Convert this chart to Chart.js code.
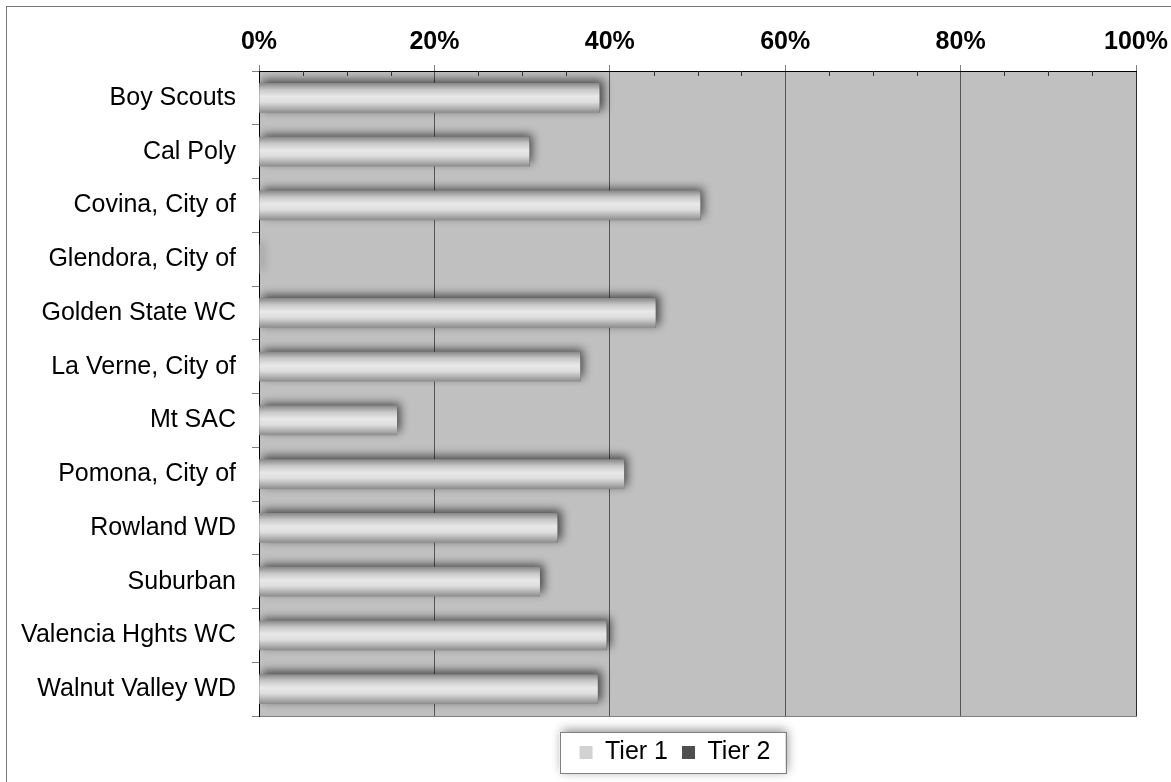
<!DOCTYPE html>
<html>
<head>
<meta charset="utf-8">
<script src="https://cdn.jsdelivr.net/npm/chart.js@4.4.1/dist/chart.umd.min.js"></script>
<style>
    html, body { margin: 0; padding: 0; background: #fff; }
    #wrap { position: relative; width: 1171px; height: 782px; }
    #frame { position: absolute; left: 6px; top: 6px; right: 0; bottom: 0; border-left: 1px solid #777; border-top: 1px solid #777; pointer-events: none; }
</style>
</head>
<body>
<div id="wrap">
    <canvas id="chart" width="1171" height="782"></canvas>
    <div id="frame"></div>
</div>
<script>
const categories = [
    "Boy Scouts", "Cal Poly", "Covina, City of", "Glendora, City of",
    "Golden State WC", "La Verne, City of", "Mt SAC", "Pomona, City of",
    "Rowland WD", "Suburban", "Valencia Hghts WC", "Walnut Valley WD",
];
const tier1 = [38.8, 30.8, 50.3, 0, 45.2, 36.6, 15.7, 41.6, 34.0, 32.0, 39.6, 38.6];
const tier2 = [0, 0, 0, 0, 0, 0, 0, 0, 0, 0, 0, 0];
const xTicks = [0, 20, 40, 60, 80, 100];
const minorTicks = [5, 10, 15, 25, 30, 35, 45, 50, 55, 65, 70, 75, 85, 90, 95];

const FONT = "'Liberation Sans', Arial, sans-serif";
const BAR_H = 29;
const LEGEND_CENTER = 675;

function barFill(context) {
    if (context.type !== "data") return "#d9d9d9";
    const chart = context.chart;
    const y = chart.scales.y ? chart.scales.y.getPixelForValue(context.dataIndex) : NaN;
    if (!isFinite(y)) return "#d9d9d9";
    const g = chart.ctx.createLinearGradient(0, y - BAR_H / 2, 0, y + BAR_H / 2);
    g.addColorStop(0, "#8a8a8a");
    g.addColorStop(0.22, "#c8c8c8");
    g.addColorStop(0.45, "#e8e8e8");
    g.addColorStop(0.65, "#dedede");
    g.addColorStop(0.85, "#b2b2b2");
    g.addColorStop(1, "#8e8e8e");
    return g;
}

const decor = {
    id: "decor",
    afterLayout(chart) {
        // excel centres the legend a bit right of the canvas middle
        const lg = chart.legend;
        const shift = LEGEND_CENTER - (lg.left + lg.right) / 2;
        lg.left += shift;
        lg.right += shift;
    },
    beforeDraw(chart) {
        const ctx = chart.ctx;
        const a = chart.chartArea;
        ctx.save();
        ctx.fillStyle = "#c0c0c0";
        ctx.fillRect(a.left, a.top, a.right - a.left, a.bottom - a.top);

        // legend frame
        const hb = chart.legend.legendHitBoxes;
        if (hb.length) {
            const first = hb[0], last = hb[hb.length - 1];
            const left = first.left - 20;
            const right = last.left + last.width + 15;
            const cy = first.top + first.height / 2;
            ctx.shadowColor = "rgba(0,0,0,0.45)";
            ctx.shadowBlur = 10;
            ctx.shadowOffsetX = 2;
            ctx.shadowOffsetY = -2;
            ctx.fillStyle = "#fff";
            ctx.fillRect(left, cy - 20.5, right - left, 41);
            ctx.shadowColor = "transparent";
            ctx.strokeStyle = "#808080";
            ctx.lineWidth = 1;
            ctx.strokeRect(Math.round(left) + 0.5, Math.round(cy - 20.5) + 0.5, Math.round(right - left), 41);
        }
        ctx.restore();
    },
    beforeDatasetDraw(chart) {
        const ctx = chart.ctx;
        ctx.save();
        ctx.shadowColor = "rgba(0,0,0,0.65)";
        ctx.shadowBlur = 9;
        ctx.shadowOffsetX = 3;
        ctx.shadowOffsetY = -3;
    },
    afterDatasetDraw(chart) {
        chart.ctx.restore();
    },
    afterDraw(chart) {
        const ctx = chart.ctx;
        const x = chart.scales.x;
        const top = chart.chartArea.top;
        ctx.save();
        ctx.strokeStyle = "#333";
        ctx.lineWidth = 1;
        ctx.beginPath();
        minorTicks.forEach((v) => {
            const px = Math.round(x.getPixelForValue(v)) + 0.5;
            ctx.moveTo(px, top);
            ctx.lineTo(px, top + 5);
        });
        ctx.stroke();
        ctx.restore();
    },
};

new Chart(document.getElementById("chart"), {
    type: "bar",
    data: {
        labels: categories,
        datasets: [
            {
                label: "Tier 1",
                data: tier1,
                backgroundColor: barFill,
                borderWidth: 0,
                barThickness: BAR_H,
            },
            {
                label: "Tier 2",
                data: tier2,
                backgroundColor: "#555",
                borderWidth: 0,
                barThickness: BAR_H,
            },
        ],
    },
    options: {
        indexAxis: "y",
        responsive: false,
        animation: false,
        layout: {
            padding: { left: 0, right: 35, top: 0, bottom: 7 },
        },
        plugins: {
            tooltip: { enabled: false },
            legend: {
                position: "bottom",
                labels: {
                    font: { family: FONT, size: 25 },
                    color: "#000",
                    boxWidth: 13,
                    boxHeight: 13,
                    padding: 14,
                    generateLabels(chart) {
                        const items = Chart.defaults.plugins.legend.labels.generateLabels(chart);
                        const fills = ["#d2d2d2", "#4f4f4f"];
                        items.forEach((it, i) => {
                            it.fillStyle = fills[i];
                            it.strokeStyle = fills[i];
                            it.lineWidth = 0;
                        });
                        return items;
                    },
                },
            },
        },
        scales: {
            x: {
                position: "top",
                stacked: true,
                min: 0,
                max: 100,
                afterBuildTicks: (s) => { s.ticks = xTicks.map((v) => ({ value: v })); },
                afterFit: (s) => {
                    s.height = 71;
                    s.paddingLeft = 0;
                    s.paddingRight = 0;
                },
                ticks: {
                    callback: (v) => v + "%",
                    autoSkip: false,
                    maxRotation: 0,
                    color: "#000",
                    padding: 8,
                    font: { family: FONT, size: 25, weight: "bold" },
                },
                grid: {
                    color: (c) => (c.tick && c.tick.value === 100 ? "#2a2a2a" : "#555"),
                    tickColor: "#808080",
                    tickLength: 6,
                    lineWidth: 1,
                },
                border: { color: "#000", width: 1 },
            },
            x2: {
                type: "linear",
                position: "bottom",
                min: 0,
                max: 100,
                afterFit: (s) => {
                    s.height = 10;
                    s.paddingLeft = 0;
                    s.paddingRight = 0;
                },
                ticks: { display: false },
                grid: { display: false, drawTicks: false },
                border: { display: true, color: "#808080", width: 1 },
            },
            y: {
                stacked: true,
                afterFit: (s) => { s.width = 259; },
                ticks: {
                    color: "#000",
                    padding: 16,
                    font: { family: FONT, size: 25 },
                },
                grid: {
                    drawOnChartArea: false,
                    offset: true,
                    tickLength: 7,
                    tickColor: "#808080",
                },
                border: { color: "#000", width: 1 },
            },
        },
    },
    plugins: [decor],
});
</script>
</body>
</html>
